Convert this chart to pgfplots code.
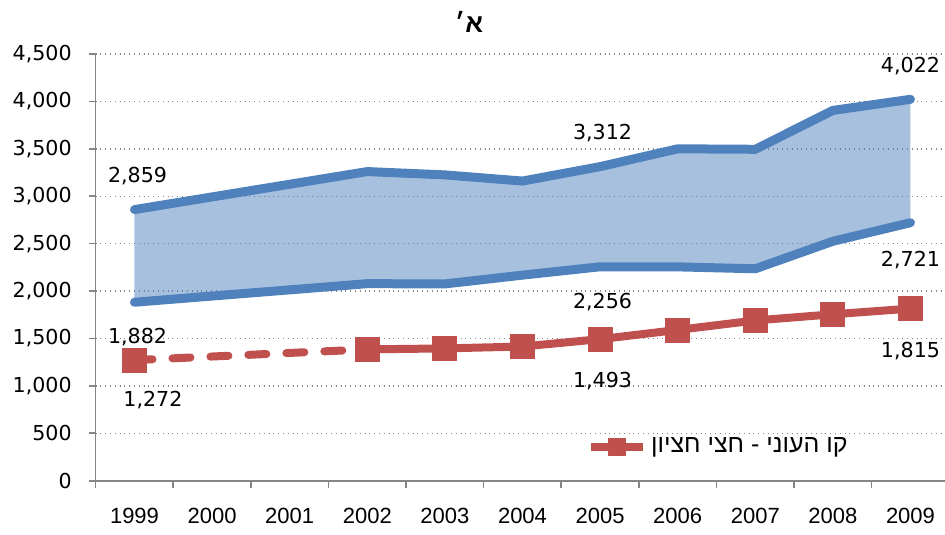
\documentclass[border=0pt]{standalone}
\usepackage{fontspec}
\setmainfont{Liberation Sans}
\newfontfamily\numfont{DejaVu Sans}
\newfontfamily\hebfont[Script=Hebrew]{Liberation Sans}
\usepackage{pgfplots}
\pgfplotsset{compat=1.18}
\usetikzlibrary{calc}
\TeXXeTstate=1
\definecolor{xlblue}{HTML}{4F81BD}
\definecolor{xlred}{HTML}{C0504D}
\definecolor{axgray}{HTML}{868686}
\newcommand{\nf}{\numfont\fontsize{10.3}{12}\selectfont}
\begin{document}
\begin{tikzpicture}
\begin{axis}[
  name=ax,
  scale only axis, width=424.65pt, height=213.35pt,
  xmin=-0.5, xmax=10.445, ymin=0, ymax=4500,
  clip=false,
  axis lines*=left,
  axis line style={axgray, line width=0.8pt},
  xtick={-0.5,0.5,1.5,2.5,3.5,4.5,5.5,6.5,7.5,8.5,9.5},
  xticklabels={},
  extra x ticks={0,1,2,3,4,5,6,7,8,9,10},
  extra x tick labels={1999,2000,2001,2002,2003,2004,2005,2006,2007,2008,2009},
  extra x tick style={major tick length=0pt},
  xticklabel style={font=\fontsize{11}{12}\selectfont, yshift=-10pt},
  ytick={0,500,...,4500},
  scaled y ticks=false,
  yticklabel style={font=\nf, xshift=-5pt},
  /pgf/number format/.cd, 1000 sep={,}, assume math mode=true,
  /pgfplots/.cd,
  tick align=outside,
  major tick length=3.5pt,
  tick style={axgray, line width=0.8pt},
  ymajorgrids,
  grid style={dotted, axgray, line width=0.7pt},
  legend style={at={(0.578,0.079)}, anchor=west, draw=none, fill=none,
    inner sep=0pt, font=\hebfont\fontsize{12.5}{14}\selectfont},
  legend image code/.code={\draw[mark repeat=2,mark phase=2,#1]
    plot coordinates {(0pt,0pt)(13pt,0pt)(26pt,0pt)};},
  legend image post style={mark size=4.2pt},
]
% band between the two blue series
\addplot[draw=none, fill=xlblue, fill opacity=0.5, forget plot] coordinates {
  (0,2859)(3,3260)(4,3225)(5,3160)(6,3312)(7,3500)(8,3495)(9,3905)(10,4022)
  (10,2721)(9,2525)(8,2235)(7,2255)(6,2256)(5,2168)(4,2075)(3,2078)(0,1882)
};
\addplot[xlblue, line width=4.5pt, line cap=round, line join=round, forget plot] coordinates {
  (0,2859)(3,3260)(4,3225)(5,3160)(6,3312)(7,3500)(8,3495)(9,3905)(10,4022)
};
\addplot[xlblue, line width=4.5pt, line cap=round, line join=round, forget plot] coordinates {
  (0,1882)(3,2078)(4,2075)(5,2168)(6,2256)(7,2255)(8,2235)(9,2525)(10,2721)
};
\addplot[xlred, line width=4pt, line cap=round, dash pattern=on 9pt off 10pt,
  mark=square*, mark size=6pt, mark options={solid, line width=0.4pt}, forget plot] coordinates {
  (0,1272)(3,1385)
};
\addplot[xlred, line width=4pt, line join=round,
  mark=square*, mark size=6pt, mark options={solid, line width=0.4pt}] coordinates {
  (3,1385)(4,1395)(5,1415)(6,1493)(7,1590)(8,1690)(9,1755)(10,1815)
};
\addlegendentry{\beginR קו העוני - חצי חציון\endR}

\node[font=\nf] at (axis cs:0.039,3208) {2,859};
\node[font=\nf] at (axis cs:0.039,1515) {1,882};
\node[font=\nf] at (axis cs:0.238,851) {1,272};
\node[font=\nf] at (axis cs:6.032,3662) {3,312};
\node[font=\nf] at (axis cs:6.032,1879) {2,256};
\node[font=\nf] at (axis cs:6.032,1051) {1,493};
\node[font=\nf] at (axis cs:10.0,4373) {4,022};
\node[font=\nf] at (axis cs:10.0,2322) {2,721};
\node[font=\nf] at (axis cs:10.0,1363) {1,815};
\node[font=\hebfont\bfseries\fontsize{13}{14}\selectfont] at (rel axis cs:0.4395,1.075) {\beginR א׳\endR};
\end{axis}
\pgfresetboundingbox
\path[use as bounding box] ($(ax.south west)+(-47.85pt,-26.65pt)$) rectangle ($(ax.north east)+(0pt,27pt)$);
\end{tikzpicture}
\end{document}
